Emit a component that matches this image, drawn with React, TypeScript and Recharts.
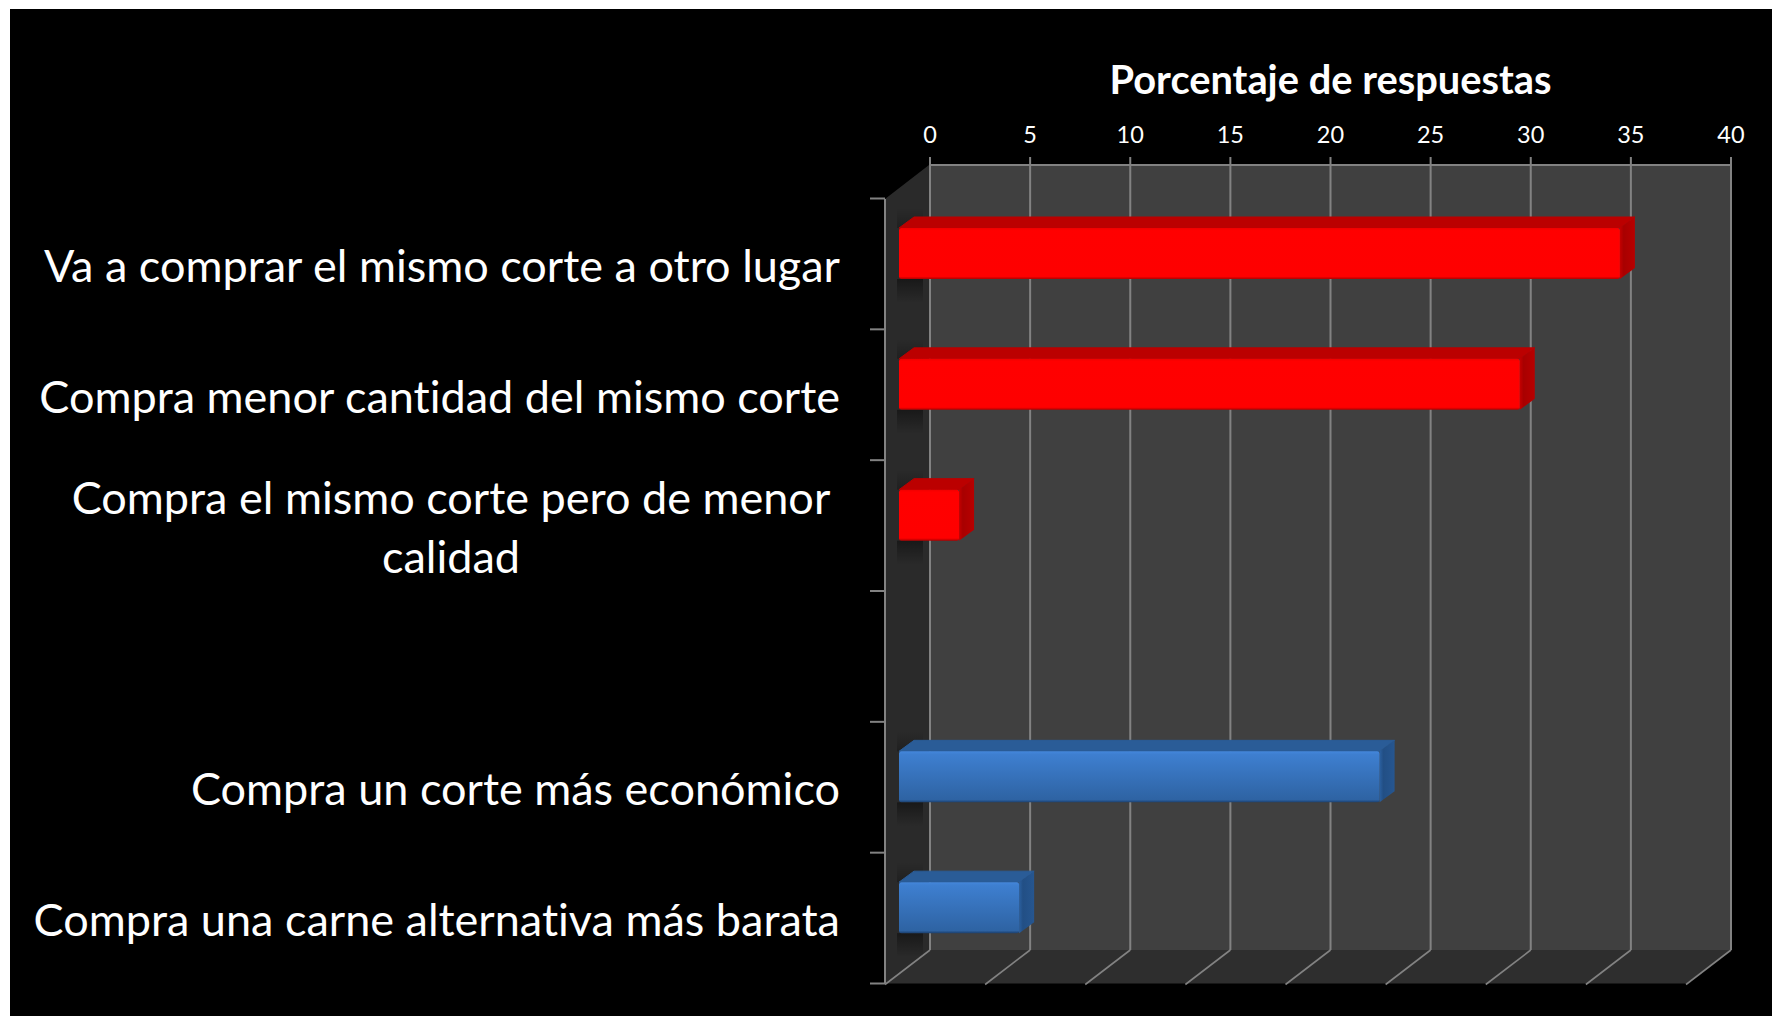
import React from 'react';
import { BarChart, Bar, XAxis, YAxis, CartesianGrid, usePlotArea } from 'recharts';

const categories = [
  'Va a comprar el mismo corte a otro lugar',
  'Compra menor cantidad del mismo corte',
  'Compra el mismo corte pero de menor\ncalidad',
  '',
  'Compra un corte más económico',
  'Compra una carne alternativa más barata',
];
const values: (number | null)[] = [36, 31, 3, null, 24, 6];
const groups = ['red', 'red', 'red', '', 'blue', 'blue'];
const xTicks = [0, 5, 10, 15, 20, 25, 30, 35, 40];
const axisTitle = 'Porcentaje de respuestas';
const data = categories.map((category, i) => ({ category, value: values[i], group: groups[i] }));

const FONT = 'Lato, Carlito, sans-serif';
const LINE = '#828282';
const W = 1772, H = 1016;
const WALL_DX = 45, WALL_DY = 33.5;
const BAR_DX = -31, BAR_DY = 23, DEPTH_X = 15, DEPTH_Y = 11;
const ROW_H = 785 / 6;

const palette: Record<string, any> = {
  red: { front: 'url(#frontRed)', top: '#bb0000', side: 'url(#sideRed)' },
  blue: { front: 'url(#frontBlue)', top: '#2a5c97', side: 'url(#sideBlue)' },
};

function Decor() {
  const p = usePlotArea();
  if (!p) return null;
  const { x, y, width, height } = p;
  const b = y + height, r = x + width;
  const max = xTicks[xTicks.length - 1];
  return (
    <g>
      <defs>
        <linearGradient id="frontRed" x1="0" y1="0" x2="0" y2="1">
          <stop offset="0" stopColor="#f00000" />
          <stop offset="0.05" stopColor="#ff0000" />
          <stop offset="0.95" stopColor="#fe0000" />
          <stop offset="1" stopColor="#b00000" />
        </linearGradient>
        <linearGradient id="sideRed" x1="0" y1="0" x2="1" y2="0">
          <stop offset="0" stopColor="#c40000" />
          <stop offset="0.25" stopColor="#a80000" />
          <stop offset="1" stopColor="#b80000" />
        </linearGradient>
        <linearGradient id="frontBlue" x1="0" y1="0" x2="0" y2="1">
          <stop offset="0" stopColor="#4487dc" />
          <stop offset="0.06" stopColor="#3e7fd0" />
          <stop offset="0.95" stopColor="#2e63a3" />
          <stop offset="1" stopColor="#1b3f6e" />
        </linearGradient>
        <linearGradient id="sideBlue" x1="0" y1="0" x2="1" y2="0">
          <stop offset="0" stopColor="#2b60a0" />
          <stop offset="0.25" stopColor="#224f85" />
          <stop offset="1" stopColor="#265690" />
        </linearGradient>
        <linearGradient id="wallShade" x1="0" y1="0" x2="0" y2="1">
          <stop offset="0" stopColor="#000" stopOpacity="0.42" />
          <stop offset="1" stopColor="#000" stopOpacity="0" />
        </linearGradient>
        <linearGradient id="wallShadeUp" x1="0" y1="1" x2="0" y2="0">
          <stop offset="0" stopColor="#000" stopOpacity="0.25" />
          <stop offset="1" stopColor="#000" stopOpacity="0" />
        </linearGradient>
      </defs>
      <polygon points={`${x - WALL_DX},${y + 34} ${x - 1},${y} ${x - 1},${b} ${x - WALL_DX},${b + WALL_DY}`} fill="#2a2a2a" />
      <polygon points={`${x - WALL_DX},${b + WALL_DY} ${x - 1},${b} ${r},${b} ${r - WALL_DX},${b + WALL_DY}`} fill="#2e2e2e" />
      {xTicks.map((t) => {
        const tx = x + (t / max) * width;
        return <line key={t} x1={tx} y1={b} x2={tx - WALL_DX} y2={b + WALL_DY + 1} stroke={LINE} strokeWidth={1.6} />;
      })}
      <line x1={x - WALL_DX} y1={y + 34} x2={x - WALL_DX} y2={b + WALL_DY} stroke={LINE} strokeWidth={2} />
    </g>
  );
}

function CategoryTick(props: any) {
  const { y, payload, index } = props;
  const rowTop = y - ROW_H / 2 + 33.5;
  const lines = String(payload.value).split('\n').filter(Boolean);
  const multi = lines.length > 1;
  return (
    <g>
      <line x1={885 - 15} x2={885} y1={rowTop} y2={rowTop} stroke={LINE} strokeWidth={2} />
      {index === categories.length - 1 && (
        <line x1={885 - 15} x2={885} y1={rowTop + ROW_H} y2={rowTop + ROW_H} stroke={LINE} strokeWidth={2} />
      )}
      {lines.map((l, i) => (
        <text
          key={i}
          x={multi ? 451 : 840}
          y={rowTop + ROW_H / 2 + 1 + (i - (lines.length - 1) / 2) * 59}
          fill="#fff"
          fontFamily={FONT}
          fontSize={45}
          style={{ fontVariantLigatures: 'none' }}
          textAnchor={multi ? 'middle' : 'end'}
          dominantBaseline="central"
        >
          {l}
        </text>
      ))}
    </g>
  );
}

function Bar3D(props: any) {
  const { x, y, width, height, payload } = props;
  const c = palette[payload?.group];
  if (!c || !width) return null;
  const fx = x + BAR_DX, fy = y + BAR_DY, fr = fx + width, fb = fy + height;
  return (
    <g>
      <rect x={897} y={fb} width={26} height={24} fill="url(#wallShade)" />
      <rect x={897} y={fy - 20} width={26} height={20} fill="url(#wallShadeUp)" />
      <polygon
        points={`${fx},${fy} ${fx + DEPTH_X},${fy - DEPTH_Y} ${fr + DEPTH_X},${fy - DEPTH_Y} ${fr},${fy}`}
        fill={c.top}
        stroke={c.top}
        strokeWidth={1}
        strokeLinejoin="round"
      />
      <polygon
        points={`${fr},${fy} ${fr + DEPTH_X},${fy - DEPTH_Y} ${fr + DEPTH_X},${fb - DEPTH_Y} ${fr},${fb}`}
        fill={c.side}
      />
      <rect x={fx} y={fy} width={width} height={height} rx={2.5} fill={c.front} />
    </g>
  );
}

export default function App() {
  return (
    <div style={{ position: 'absolute', left: 0, top: 0, width: W, height: H, background: '#fff', overflow: 'hidden' }}>
      <div style={{ position: 'absolute', left: 10, top: 9, width: W - 10, height: H - 9, background: '#000' }} />
      <div style={{ position: 'absolute', left: 0, top: 0 }}>
        <BarChart
          width={W}
          height={H}
          data={data}
          layout="vertical"
          margin={{ top: 65, left: 10, right: 41, bottom: 66 }}
          barCategoryGap={0}
        >
          <Decor />
          <CartesianGrid horizontal={false} vertical stroke={LINE} strokeWidth={2} fill="#404040" fillOpacity={1} />
          <XAxis
            type="number"
            orientation="top"
            height={100}
            domain={[0, 40]}
            ticks={xTicks}
            interval={0}
            tick={{ fill: '#fff', fontFamily: FONT, fontSize: 23.5 }}
            tickSize={8}
            tickMargin={14}
            axisLine={{ stroke: LINE, strokeWidth: 2 }}
            tickLine={{ stroke: LINE, strokeWidth: 2 }}
            label={{
              value: axisTitle,
              position: 'insideTop',
              fill: '#fff',
              fontFamily: FONT,
              fontSize: 39.8,
              fontWeight: 700,
              offset: 1,
            }}
          />
          <YAxis
            type="category"
            dataKey="category"
            width={920}
            interval={0}
            axisLine={false}
            tickLine={false}
            tick={<CategoryTick />}
          />
          <Bar dataKey="value" barSize={51} isAnimationActive={false} shape={<Bar3D />} />
        </BarChart>
      </div>
    </div>
  );
}
